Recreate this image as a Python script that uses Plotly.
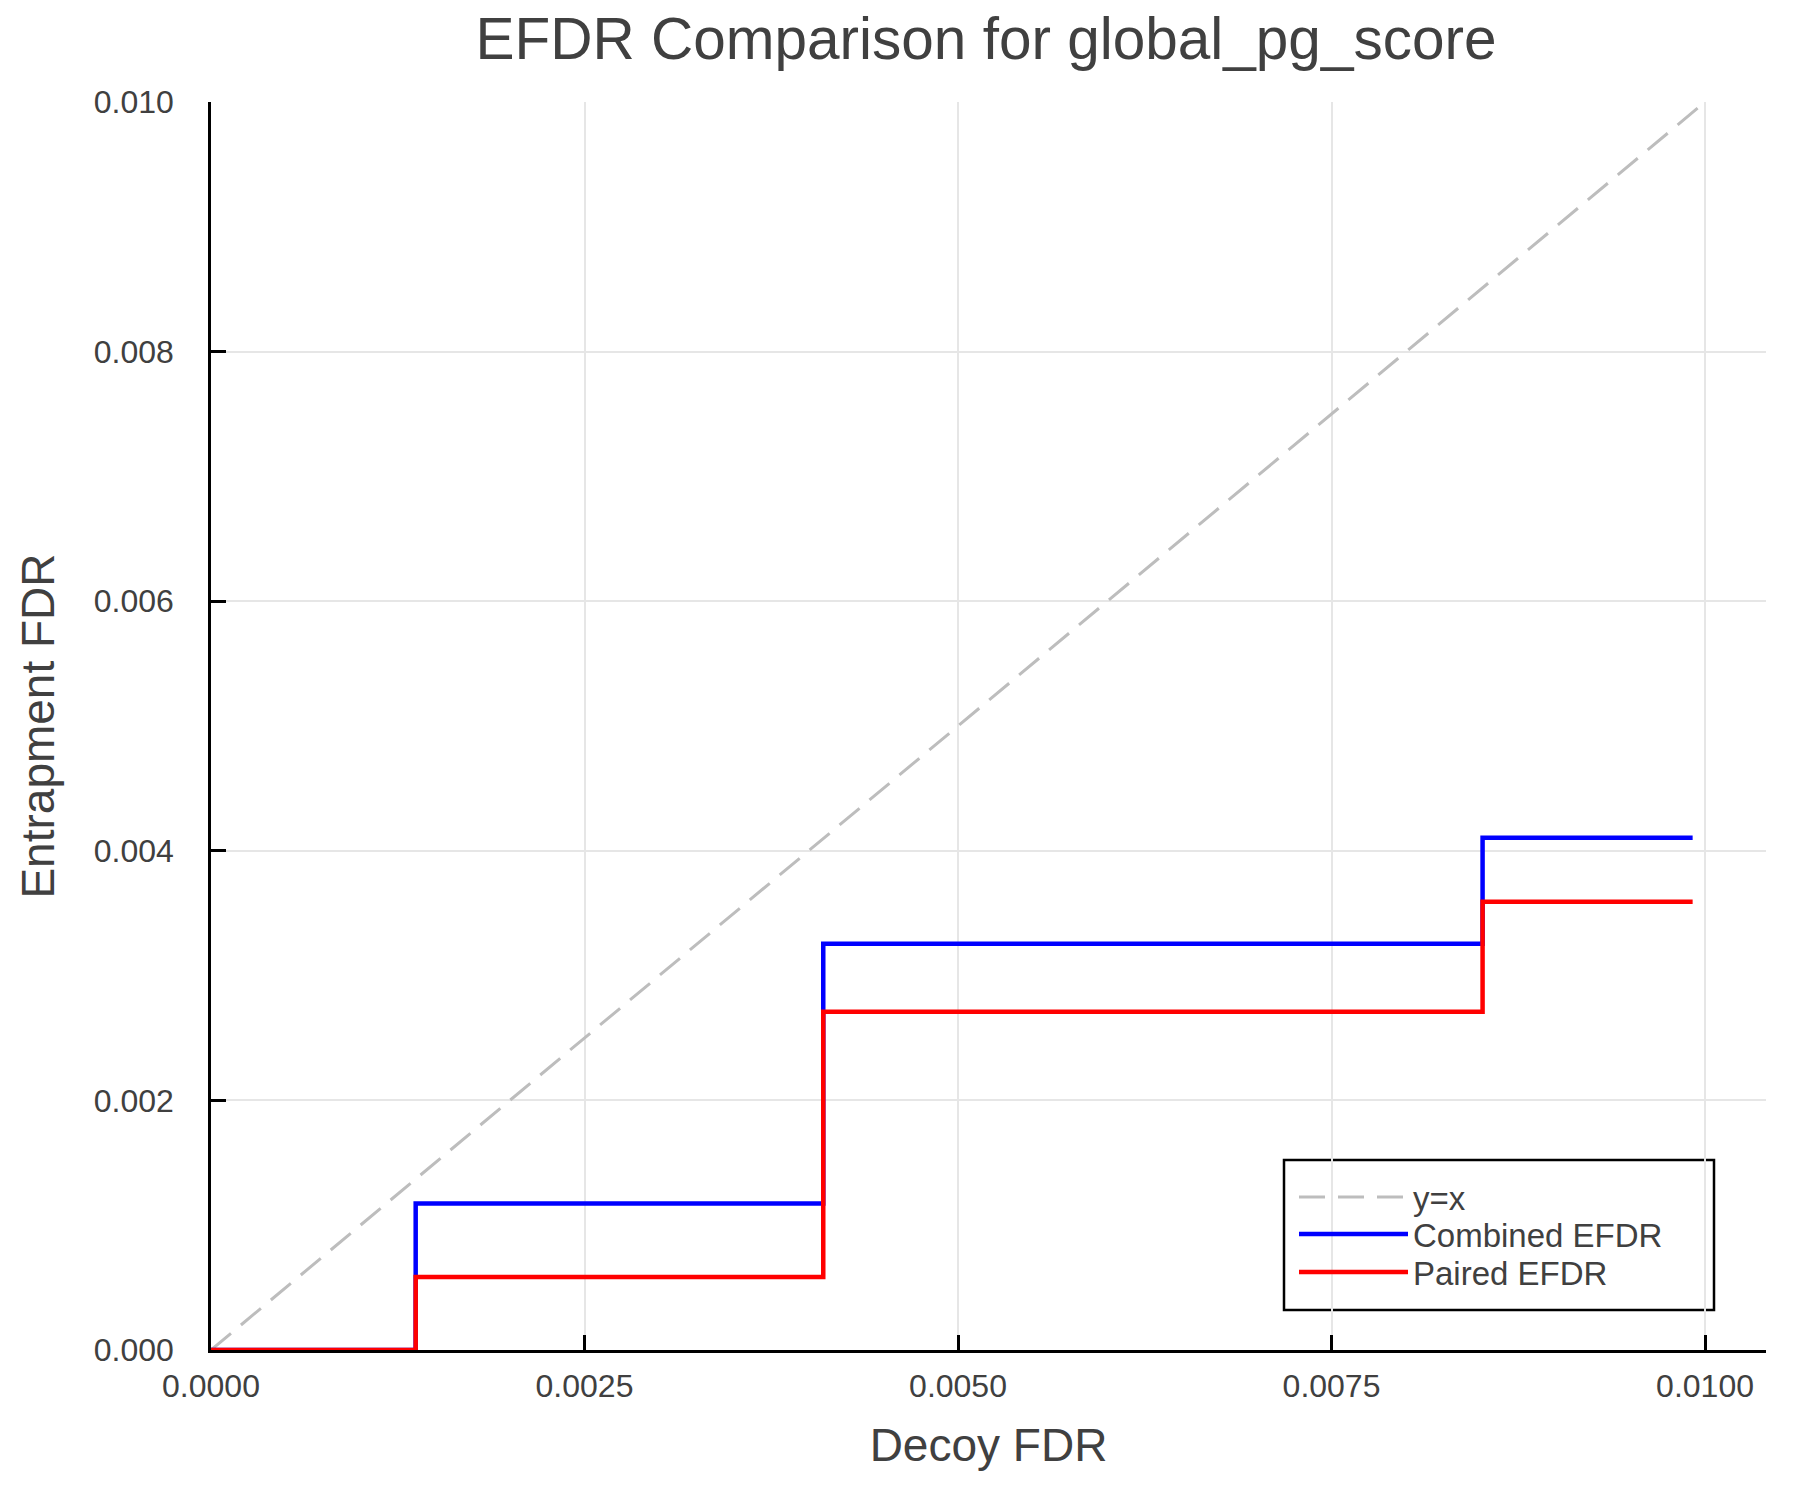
import plotly.graph_objects as go

# ---- data ----
diag_x = [0.0, 0.01]
diag_y = [0.0, 0.01]
decoy_fdr_steps = [0.0, 0.00137, 0.004098, 0.008511, 0.009917]
combined_efdr = [0.0, 0.001173, 0.003255, 0.004104, 0.004104]
paired_efdr = [0.0, 0.000585, 0.002711, 0.003592, 0.003592]
x_tick_vals = [0.0, 0.0025, 0.005, 0.0075, 0.01]
x_tick_text = ["0.0000", "0.0025", "0.0050", "0.0075", "0.0100"]
y_tick_vals = [0.0, 0.002, 0.004, 0.006, 0.008, 0.010]
y_tick_text = ["0.000", "0.002", "0.004", "0.006", "0.008", "0.010"]
series_names = ["y=x", "Combined EFDR", "Paired EFDR"]

# ---- layout geometry (pixels) ----
W, H = 1800, 1500
L, T = 211, 102
PW, PH = 1555, 1248
R, B = W - L - PW, H - T - PH
FONT = "Liberation Sans, Arial, Helvetica, sans-serif"
TXT = "#404040"


def px_x(page_px):
    return (page_px - L) / PW


def px_y(page_py):
    return (T + PH - page_py) / PH


fig = go.Figure()
fig.add_trace(go.Scatter(
    x=diag_x, y=diag_y, mode="lines", name=series_names[0], legend="legend",
    showlegend=True,
    line=dict(color="#bdbdbd", width=3, dash="26px,13px"),
))
fig.add_trace(go.Scatter(
    x=decoy_fdr_steps, y=combined_efdr, mode="lines", name=series_names[1], legend="legend2",
    showlegend=True,
    line=dict(color="#0000ff", width=4.5, shape="hv"),
))
fig.add_trace(go.Scatter(
    x=decoy_fdr_steps, y=paired_efdr, mode="lines", name=series_names[2], legend="legend3",
    showlegend=True,
    line=dict(color="#ff0000", width=4.5, shape="hv"),
))

axis_common = dict(
    showline=True, linecolor="black", linewidth=2.5, mirror=False,
    ticks="inside", ticklen=15, tickwidth=2.5, tickcolor="black",
    showgrid=True, gridcolor="#e6e6e6", gridwidth=1.5, zeroline=False,
    tickfont=dict(family=FONT, size=32, color=TXT),
    automargin=False,
)


def legend_at(page_y):
    return dict(x=px_x(1294), y=px_y(page_y), xanchor="left", yanchor="middle",
                bgcolor="rgba(0,0,0,0)", borderwidth=0,
                font=dict(family=FONT, size=33, color=TXT),
                itemwidth=109, tracegroupgap=0, visible=True)


fig.update_layout(
    width=W, height=H,
    margin=dict(l=L, r=R, t=T, b=B),
    paper_bgcolor="white", plot_bgcolor="white",
    font=dict(family=FONT, color=TXT),
    showlegend=True,
    title=dict(text="EFDR Comparison for global_pg_score",
               font=dict(family=FONT, size=58.5, color=TXT),
               x=px_x(986), xref="paper", xanchor="center",
               y=1 - 38.5 / H, yref="container", yanchor="middle"),
    xaxis=dict(range=[0.0, 0.010408], tickvals=x_tick_vals, ticktext=x_tick_text,
               title=dict(text="Decoy FDR", font=dict(family=FONT, size=46, color=TXT), standoff=26),
               ticklabelstandoff=6, **axis_common),
    yaxis=dict(range=[0.0, 0.010], tickvals=y_tick_vals, ticktext=y_tick_text,
               title=dict(text="Entrapment FDR", font=dict(family=FONT, size=46, color=TXT), standoff=25),
               ticklabelstandoff=28, **axis_common),
    legend=legend_at(1197),
    legend2=legend_at(1234),
    legend3=legend_at(1272),
    shapes=[dict(type="rect", xref="paper", yref="paper",
                 x0=px_x(1284), x1=px_x(1714), y0=px_y(1310), y1=px_y(1160),
                 fillcolor="white", line=dict(color="black", width=2.5), layer="between")],
)

fig.write_html("out.html", config={"displayModeBar": False},
               post_script="document.body.style.margin='0px';")
